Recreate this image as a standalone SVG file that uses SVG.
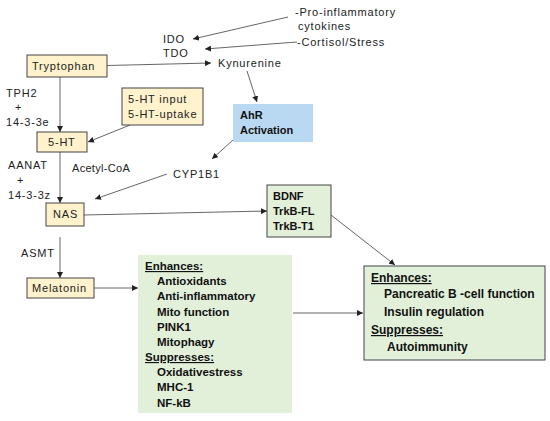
<svg xmlns="http://www.w3.org/2000/svg" width="550" height="421" viewBox="0 0 550 421">
<defs>
<marker id="ah" markerUnits="userSpaceOnUse" markerWidth="7" markerHeight="6" refX="6" refY="3" orient="auto">
<path d="M0,0 L6,3 L0,6 Z" fill="#222"/>
</marker>
<style>
.t{font-family:"Liberation Sans",Arial,sans-serif;font-size:11px;letter-spacing:0.8px;fill:#222}
.b{font-family:"Liberation Sans",Arial,sans-serif;font-size:11px;font-weight:bold;fill:#111}
.m{font-family:"Liberation Sans",Arial,sans-serif;font-size:11.5px;font-weight:bold;fill:#111}
.r{font-family:"Liberation Sans",Arial,sans-serif;font-size:12px;font-weight:bold;fill:#111}
.u{text-decoration:underline}
.y{fill:#fff2cc;stroke:#444;stroke-width:1}
.g{fill:#e2f0d9;stroke:#444;stroke-width:1}
.gn{fill:#e2f0d9}
.bl{fill:#b9d9f2}
.c{stroke:#555;stroke-width:0.9;fill:none;marker-end:url(#ah)}
</style>
</defs>
<rect width="550" height="421" fill="#fff"/>

<g id="connectors">
<line class="c" x1="288" y1="17" x2="193" y2="39"/>
<line class="c" x1="297" y1="42" x2="205" y2="49"/>
<line class="c" x1="107" y1="65.5" x2="211" y2="63"/>
<line class="c" x1="247" y1="71" x2="257" y2="102"/>
<line class="c" x1="60" y1="77" x2="60" y2="132"/>
<line class="c" x1="130" y1="125" x2="88" y2="142"/>
<line class="c" x1="233" y1="140" x2="212" y2="159"/>
<line class="c" x1="60" y1="152" x2="60" y2="203"/>
<line class="c" x1="167" y1="174" x2="95" y2="199"/>
<line class="c" x1="84" y1="215" x2="267" y2="211"/>
<line class="c" x1="331" y1="215" x2="395" y2="265"/>
<line class="c" x1="60" y1="237" x2="60" y2="278"/>
<line class="c" x1="94" y1="288" x2="138" y2="288"/>
<line class="c" x1="293" y1="313" x2="363" y2="313"/>
</g>

<g id="labels">
<text class="t" x="295" y="16">-Pro-inflammatory</text>
<text class="t" x="298" y="30">cytokines</text>
<text class="t" x="297" y="46">-Cortisol/Stress</text>
<text class="t" x="163" y="43">IDO</text>
<text class="t" x="163" y="57">TDO</text>
<text class="t" x="6" y="97">TPH2</text>
<text class="t" x="15" y="111">+</text>
<text class="t" x="6" y="126">14-3-3e</text>
<text class="t" x="8" y="169">AANAT</text>
<text class="t" x="17" y="184">+</text>
<text class="t" x="8" y="199">14-3-3z</text>
<text class="t" x="72" y="172" style="letter-spacing:0.3px">Acetyl-CoA</text>
<text class="t" x="173" y="178">CYP1B1</text>
<text class="t" x="21" y="257">ASMT</text>
</g>

<g id="tryptophan">
<rect class="y" x="27" y="55" width="80" height="22"/>
<text class="t" x="32" y="70">Tryptophan</text>
</g>
<g id="kynurenine">
<text class="t" x="218" y="67">Kynurenine</text>
</g>
<g id="ht-input">
<rect class="y" x="122" y="88" width="81" height="37"/>
<text class="t" x="128" y="103">5-HT input</text>
<text class="t" x="128" y="118">5-HT-uptake</text>
</g>
<g id="ht5">
<rect class="y" x="37" y="132" width="50" height="20"/>
<text class="t" x="48" y="146">5-HT</text>
</g>
<g id="ahr">
<rect class="bl" x="233" y="104" width="80" height="38"/>
<text class="b" x="240" y="119">AhR</text>
<text class="b" x="240" y="134">Activation</text>
</g>
<g id="nas">
<rect class="y" x="46" y="203" width="38" height="23"/>
<text class="t" x="53" y="218">NAS</text>
</g>
<g id="bdnf">
<rect class="g" x="267" y="185" width="64" height="52"/>
<text class="b" x="273" y="200">BDNF</text>
<text class="b" x="273" y="215">TrkB-FL</text>
<text class="b" x="273" y="230">TrkB-T1</text>
</g>
<g id="melatonin">
<rect class="y" x="27" y="278" width="67" height="20"/>
<text class="t" x="32" y="292">Melatonin</text>
</g>
<g id="effects">
<rect class="gn" x="138" y="255" width="154" height="158"/>
<text class="m u" x="145" y="270">Enhances:</text>
<text class="m" x="157" y="285">Antioxidants</text>
<text class="m" x="157" y="300">Anti-inflammatory</text>
<text class="m" x="157" y="316">Mito function</text>
<text class="m" x="157" y="331">PINK1</text>
<text class="m" x="157" y="346">Mitophagy</text>
<text class="m u" x="145" y="361">Suppresses:</text>
<text class="m" x="157" y="376">Oxidativestress</text>
<text class="m" x="157" y="391">MHC-1</text>
<text class="m" x="157" y="407">NF-kB</text>
</g>
<g id="outcome">
<rect class="g" x="364" y="266" width="181" height="94"/>
<text class="r u" x="371" y="282">Enhances:</text>
<text class="r" x="384" y="298">Pancreatic B -cell function</text>
<text class="r" x="384" y="316">Insulin regulation</text>
<text class="r u" x="371" y="334">Suppresses:</text>
<text class="r" x="387" y="351">Autoimmunity</text>
</g>
</svg>
